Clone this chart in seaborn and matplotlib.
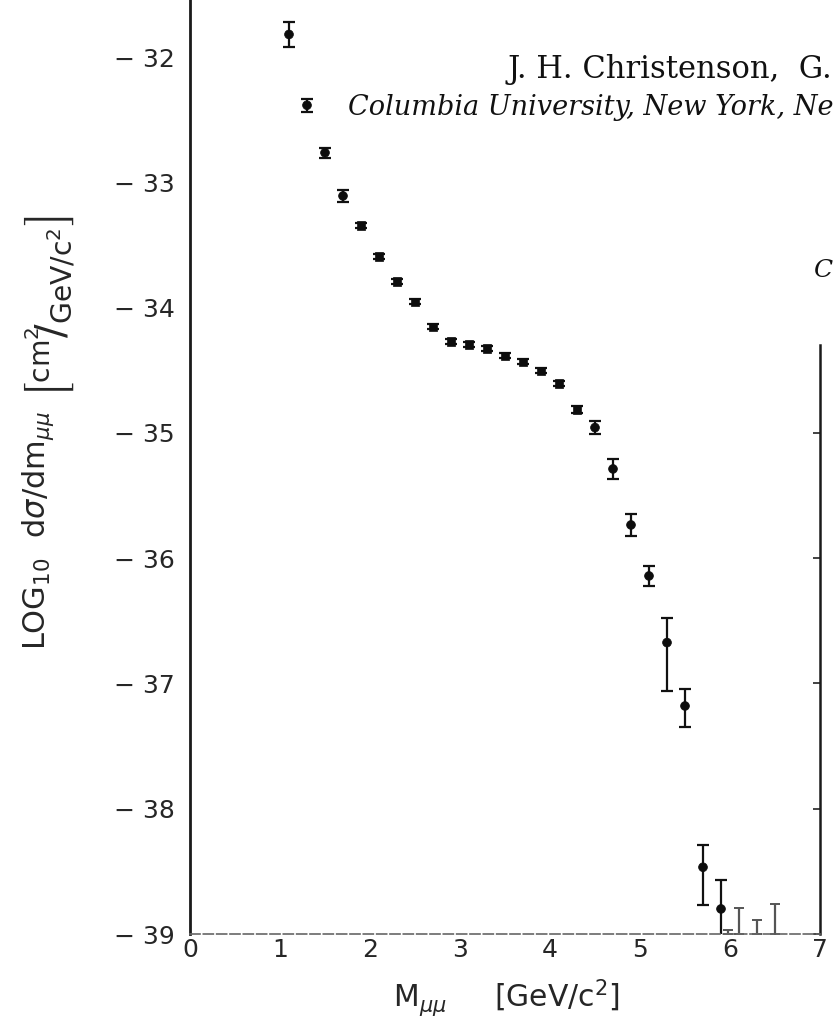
import numpy as np
import pandas as pd
import matplotlib
matplotlib.use("Agg")
import matplotlib.pyplot as plt
import seaborn as sns

# ---- data ----
mass = [1.1, 1.3, 1.5, 1.7, 1.9, 2.1, 2.3, 2.5, 2.7, 2.9, 3.1, 3.3, 3.5,
        3.7, 3.9, 4.1, 4.3, 4.5, 4.7, 4.9, 5.1, 5.3, 5.5, 5.7, 5.9]
log_xsec = [-31.82, -32.385, -32.764, -33.109, -33.343, -33.59, -33.79,
            -33.955, -34.155, -34.272, -34.293, -34.328, -34.386, -34.434,
            -34.506, -34.604, -34.812, -34.958, -35.288, -35.735, -36.142,
            -36.674, -37.18, -38.467, -38.80]
err_up = [0.10, 0.05, 0.04, 0.05, 0.02, 0.02, 0.02, 0.02, 0.02, 0.02, 0.02,
          0.02, 0.02, 0.02, 0.02, 0.02, 0.03, 0.05, 0.077, 0.09, 0.077,
          0.20, 0.133, 0.18, 0.23]
err_dn = [0.10, 0.05, 0.04, 0.05, 0.02, 0.02, 0.02, 0.02, 0.02, 0.02, 0.02,
          0.02, 0.02, 0.02, 0.02, 0.02, 0.03, 0.05, 0.077, 0.09, 0.077,
          0.39, 0.17, 0.30, 0.25]
shape = ['o', 'o', 'o', 'o', 's', 's', 's', 's', 's', 's', 's', 's', 's',
         's', 's', 's', 's', 'o', 'o', 'o', 'o', 'o', 'o', 'o', 'o']

# upper-limit bars (no measured point)
limit_mass = [5.98, 6.1, 6.3, 6.5]
limit_top = [-38.97, -38.79, -38.89, -38.76]

y_ticks = [-32, -33, -34, -35, -36, -37, -38, -39]
y_ticklabels = ['\u2212 32', '\u2212 33', '\u2212 34', '\u2212 35',
                '\u2212 36', '\u2212 37', '\u2212 38', '\u2212 39']
x_ticks = [0, 1, 2, 3, 4, 5, 6, 7]
x_ticklabels = ['0', '1', '2', '3', '4', '5', '6', '7']

df = pd.DataFrame({'mass': mass, 'logxs': log_xsec, 'shape': shape})

sns.set_theme(style='white')
plt.rcParams['font.family'] = ['DejaVu Sans']
plt.rcParams['mathtext.fontset'] = 'dejavusans'

W, H = 836, 1023
fig = plt.figure(figsize=(W / 100, H / 100), dpi=100)
ax = fig.add_axes([190 / W, 89 / H, 630 / W, 934 / H])

ax.errorbar(mass, log_xsec, yerr=[err_dn, err_up], fmt='none',
            ecolor='#111111', elinewidth=1.6, capsize=4, capthick=1.6, zorder=2)
sns.scatterplot(data=df, x='mass', y='logxs', style='shape',
                markers={'o': 'o', 's': 's'}, s=40, color='#0d0d0d',
                edgecolor='#0d0d0d', linewidth=0.5, legend=False, ax=ax, zorder=3)

lim_lo = [t + 39 for t in limit_top]
ax.errorbar(limit_mass, limit_top, yerr=[lim_lo, [0] * len(limit_top)],
            fmt='none', ecolor='#555555', elinewidth=1.6, capsize=3.5,
            capthick=1.4, linestyle=':', zorder=2)

ax.set_xlim(0, 7)
ax.set_ylim(-39, -31.545)
ax.set_xticks(x_ticks)
ax.set_xticklabels(x_ticklabels, fontsize=18)
ax.set_yticks(y_ticks)
ax.set_yticklabels(y_ticklabels, fontsize=18)
ax.tick_params(axis='both', direction='in', length=5, width=1.2, color='#222222')
ax.tick_params(axis='y', pad=11, right=True)
ax.tick_params(axis='x', pad=3)
for v, t in zip(y_ticks, ax.yaxis.get_major_ticks()):
    t.tick2line.set_visible(v <= -35)

ax.spines['top'].set_visible(False)
ax.spines['left'].set_linewidth(2.0)
ax.spines['left'].set_color('#1a1a1a')
ax.spines['bottom'].set_linewidth(1.2)
ax.spines['bottom'].set_color('#666666')
ax.spines['bottom'].set_linestyle((0, (6, 2)))
ax.spines['right'].set_linewidth(1.8)
ax.spines['right'].set_color('#1a1a1a')
ax.spines['right'].set_bounds(-39, -34.30)

ax.set_xlabel(r'M$_{\mu\mu}$     $\left[\mathrm{GeV/c^{2}}\right]$', fontsize=21.5)
ax.xaxis.label.set_va('center')
ax.xaxis.set_label_coords(0.5016, -0.069)

ax.set_ylabel(r'LOG$_{10}$  d$\sigma$/dm$_{\mu\mu}$', fontsize=22)
ax.yaxis.label.set_va('center')
ax.yaxis.set_label_coords(-0.241, 0.4315)
fig.text(50 / W, 1 - 307 / H,
         r'$\left[{}^{\mathrm{cm}^{2}}\!\!/_{\mathrm{GeV/c}^{2}}\right]$',
         rotation=90, fontsize=29, ha='center', va='center', color='#262626')

# page text bleeding in from the scan
fig.text(508 / W, 1 - 78 / H, 'J. H. Christenson,  G.', family='DejaVu Serif',
         fontsize=22, ha='left', va='baseline', color='#111111')
fig.text(348 / W, 1 - 115 / H, 'Columbia University, New York, Ne',
         family='DejaVu Serif', style='italic', fontsize=19.5,
         ha='left', va='baseline', color='#111111')
fig.text(813 / W, 1 - 277 / H, 'C', family='DejaVu Serif', style='italic',
         fontsize=18, ha='left', va='baseline', color='#111111')

fig.savefig('out.png', dpi=100)
